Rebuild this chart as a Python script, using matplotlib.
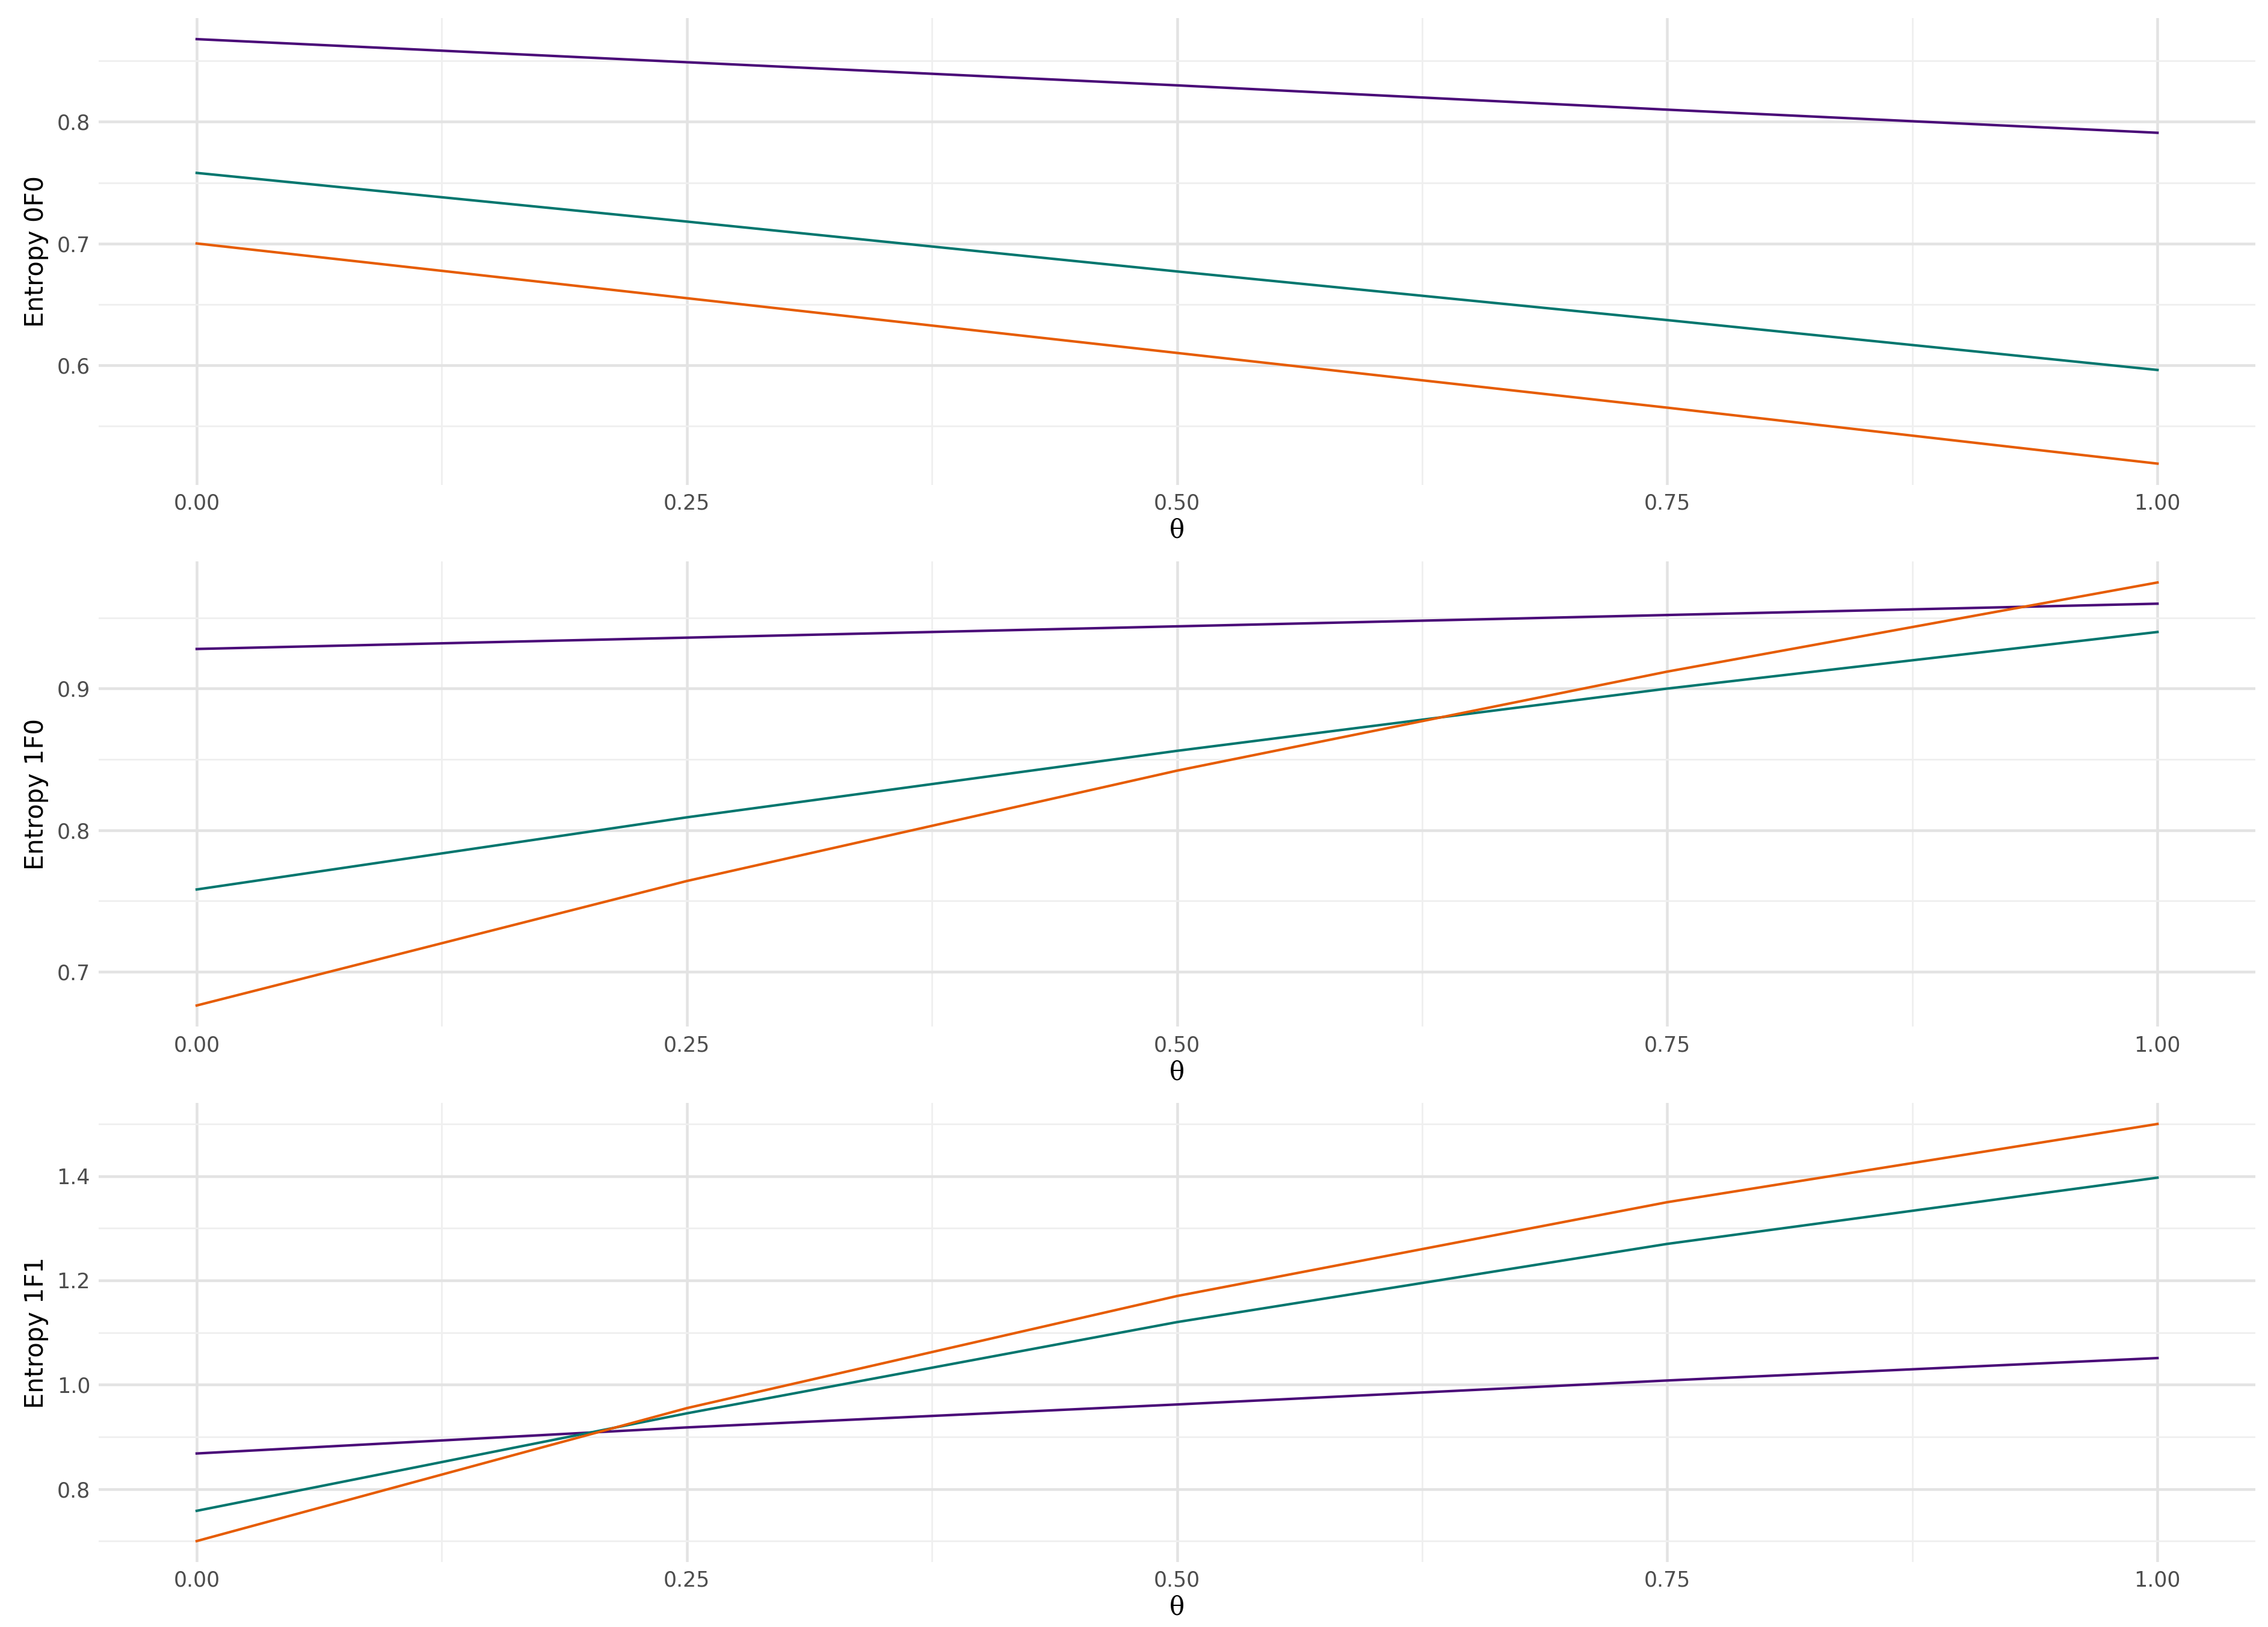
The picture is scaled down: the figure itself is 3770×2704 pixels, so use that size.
import matplotlib
matplotlib.use("Agg")
import matplotlib.pyplot as plt
import numpy as np

theta = [0.0, 0.25, 0.5, 0.75, 1.0]

# panel 0F0
e0f0_purple = [0.868, 0.849, 0.830, 0.810, 0.791]
e0f0_teal = [0.758, 0.718, 0.677, 0.637, 0.596]
e0f0_orange = [0.700, 0.655, 0.610, 0.565, 0.519]
# panel 1F0
e1f0_purple = [0.928, 0.936, 0.944, 0.952, 0.960]
e1f0_teal = [0.758, 0.809, 0.856, 0.900, 0.940]
e1f0_orange = [0.676, 0.764, 0.842, 0.912, 0.975]
# panel 1F1
e1f1_purple = [0.868, 0.918, 0.962, 1.008, 1.051]
e1f1_teal = [0.758, 0.945, 1.120, 1.270, 1.397]
e1f1_orange = [0.700, 0.955, 1.170, 1.350, 1.500]

panels = [
    ("Entropy 0F0", e0f0_purple, e0f0_teal, e0f0_orange, [0.6, 0.7, 0.8]),
    ("Entropy 1F0", e1f0_purple, e1f0_teal, e1f0_orange, [0.7, 0.8, 0.9]),
    ("Entropy 1F1", e1f1_purple, e1f1_teal, e1f1_orange, [0.8, 1.0, 1.2, 1.4]),
]
colors = ["#4a0a78", "#00766e", "#e65c00"]
boxes = [(0.702, 0.989), (0.369, 0.655), (0.040, 0.322)]
xticks = [0.0, 0.25, 0.5, 0.75, 1.0]

fig = plt.figure(figsize=(15.08, 10.816), dpi=250)
for (label, p, t, o, yt), (b, top) in zip(panels, boxes):
    ax = fig.add_axes([0.0435, b, 0.951, top - b])
    for series, c in zip([p, t, o], colors):
        ax.plot(theta, series, color=c, lw=1.2, zorder=3)
    allv = np.concatenate([p, t, o])
    lo, hi = allv.min(), allv.max()
    pad = (hi - lo) * 0.05
    ax.set_ylim(lo - pad, hi + pad)
    ax.set_xlim(-0.05, 1.05)
    ax.set_xticks(xticks)
    ax.set_xticklabels(["0.00", "0.25", "0.50", "0.75", "1.00"])
    ax.set_yticks(yt)
    step = yt[1] - yt[0]
    minor = np.arange(yt[0] - step / 2, hi + pad, step)
    ax.set_yticks([m for m in minor if lo - pad < m < hi + pad], minor=True)
    ax.set_xticks([0.125, 0.375, 0.625, 0.875], minor=True)
    ax.grid(which="major", color="#e3e3e3", lw=1.3)
    ax.grid(which="minor", color="#efefef", lw=0.8)
    ax.set_axisbelow(True)
    for s in ax.spines.values():
        s.set_visible(False)
    ax.tick_params(which="both", length=0, labelsize=10, labelcolor="#4d4d4d", pad=4)
    ax.set_ylabel(label, fontsize=12, color="black")
    ax.set_xlabel("θ", fontsize=12, family="DejaVu Serif", labelpad=2)

fig.savefig("out.png", dpi=250, facecolor="white")
